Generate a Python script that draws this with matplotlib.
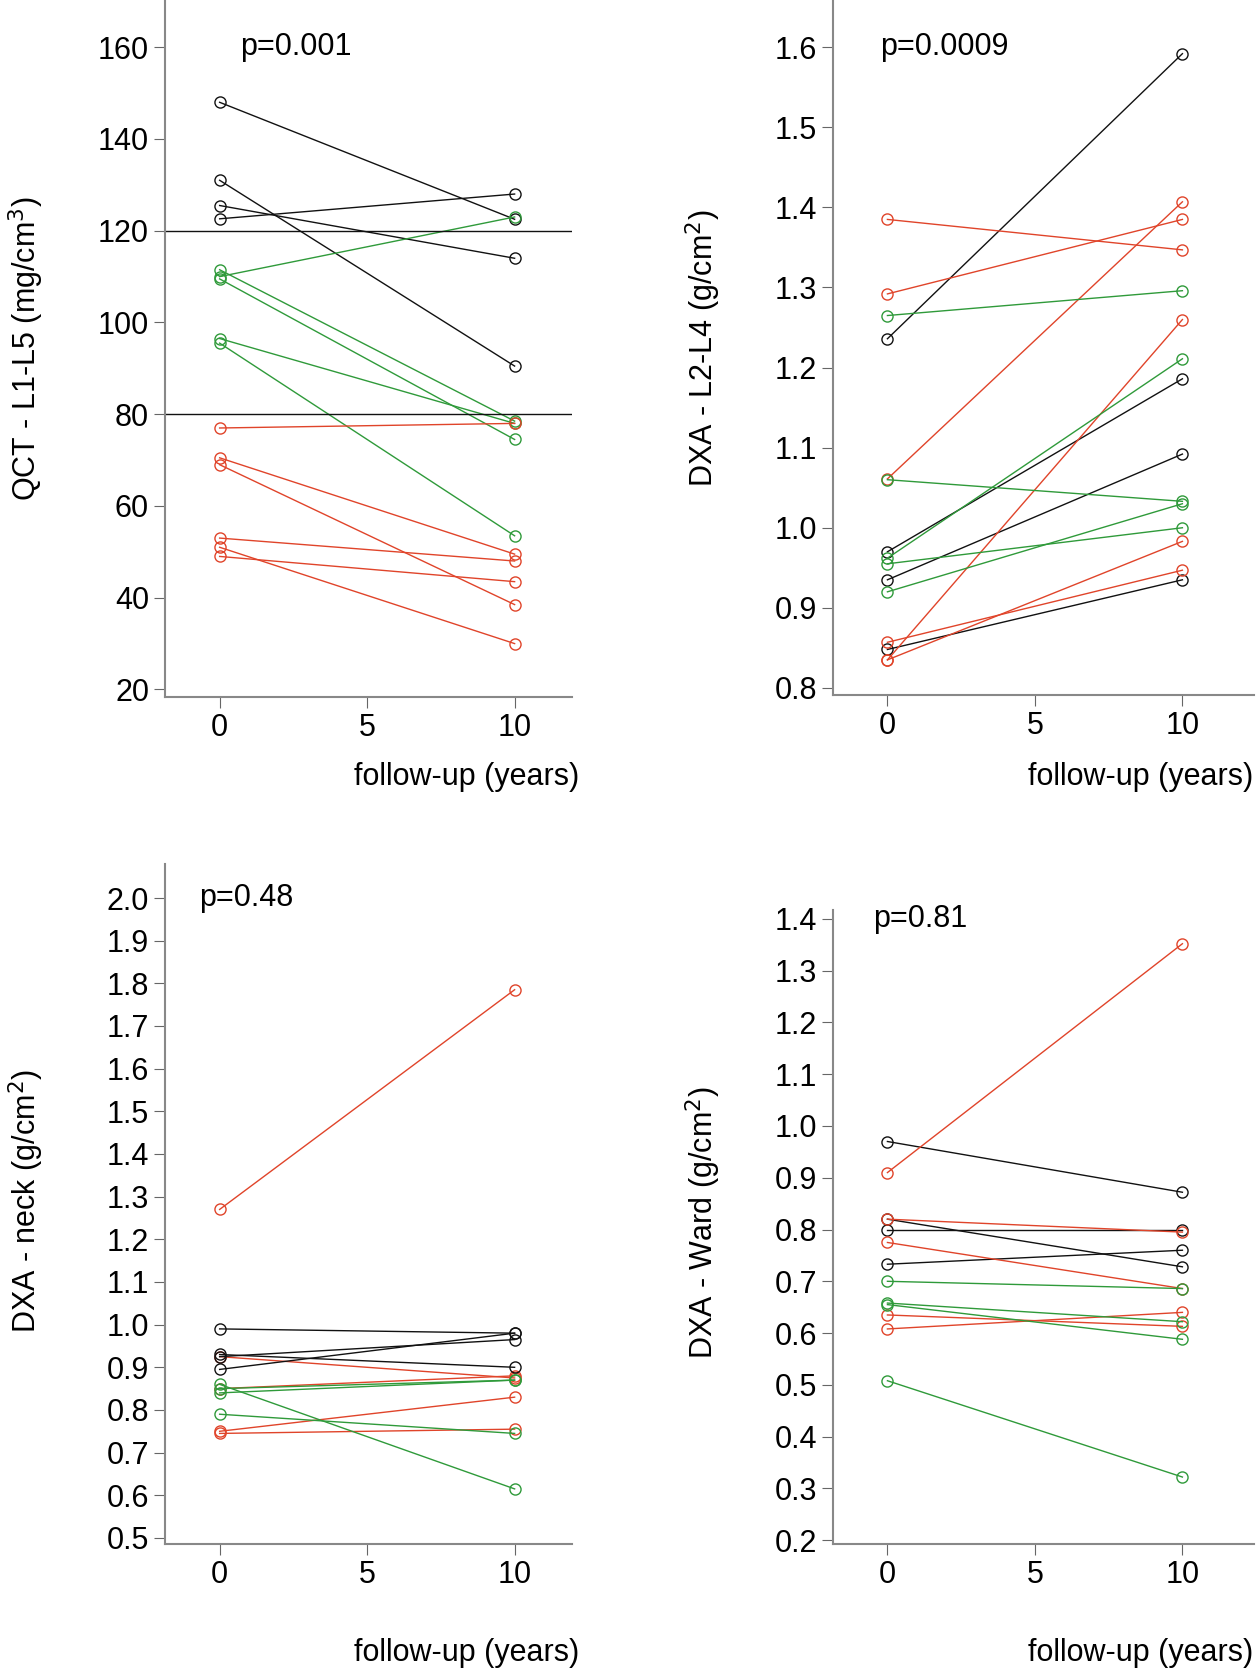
import matplotlib
matplotlib.use("Agg")
import matplotlib.pyplot as plt

RED = "#e0442a"
GREEN = "#2f9a3a"
BLACK = "#111111"

years = [0, 10]

# QCT L1-L5 (mg/cm3)
qct_start = [148, 131, 125.5, 122.6, 111.5, 110, 109.5, 96.5, 95.5, 77, 70.5, 69, 53, 51, 49]
qct_end = [122.5, 90.5, 114, 128, 78.5, 123, 74.5, 78, 53.5, 78, 49.5, 38.5, 48, 30, 43.5]
qct_col = ["k", "k", "k", "k", "g", "g", "g", "g", "g", "r", "r", "r", "r", "r", "r"]

# DXA L2-L4 (g/cm2)
l24_start = [1.236, 0.970, 0.935, 0.848, 1.385, 1.292, 1.061, 0.857, 0.835, 0.835,
             1.265, 1.060, 0.962, 0.955, 0.920]
l24_end = [1.592, 1.186, 1.092, 0.935, 1.347, 1.385, 1.407, 0.947, 1.260, 0.983,
           1.296, 1.033, 1.211, 1.000, 1.030]
l24_col = ["k", "k", "k", "k", "r", "r", "r", "r", "r", "r", "g", "g", "g", "g", "g"]

# DXA neck (g/cm2)
neck_start = [1.27, 0.925, 0.75, 0.745, 0.85, 0.99, 0.93, 0.895, 0.925, 0.86, 0.85, 0.84, 0.79]
neck_end = [1.785, 0.875, 0.83, 0.755, 0.88, 0.98, 0.90, 0.98, 0.965, 0.615, 0.87, 0.87, 0.745]
neck_col = ["r", "r", "r", "r", "r", "k", "k", "k", "k", "g", "g", "g", "g"]

# DXA Ward (g/cm2)
ward_start = [0.97, 0.80, 0.82, 0.733, 0.91, 0.82, 0.775, 0.635, 0.608, 0.70, 0.658, 0.655, 0.508]
ward_end = [0.872, 0.80, 0.728, 0.76, 1.352, 0.795, 0.686, 0.613, 0.64, 0.686, 0.622, 0.588, 0.322]
ward_col = ["k", "k", "k", "k", "r", "r", "r", "r", "r", "g", "g", "g", "g"]

cmap = {"k": BLACK, "r": RED, "g": GREEN}

fig = plt.figure(figsize=(12.6, 16.75), dpi=100)
plt.rcParams["font.family"] = ["Liberation Sans", "DejaVu Sans"]
FS = 22


def panel(rect, starts, ends, cols, ylim, yticks, yfmt, ylabel, ptext, px, ylab_pos):
    ax = fig.add_axes(rect)
    for s, e, c in zip(starts, ends, cols):
        ax.plot(years, [s, e], color=cmap[c], lw=1.0, marker="o", ms=8,
                mfc="none", mec=cmap[c], mew=1.0)
    ax.set_xlim(-1.85, rect[2] * 1196 / 28.0 - 1.85)
    ax.set_ylim(*ylim)
    ax.set_xticks([0, 5, 10])
    ax.set_yticks(yticks)
    ax.set_yticklabels([yfmt.format(v) for v in yticks])
    ax.tick_params(labelsize=FS, length=8, color="#666666")
    for side in ["top", "right"]:
        ax.spines[side].set_visible(False)
    for side in ["left", "bottom"]:
        ax.spines[side].set_color("#888888")
        ax.spines[side].set_linewidth(1.5)
    ax.text(px, yticks[-1], ptext, fontsize=FS, va="center")
    fig.text(ylab_pos[0], ylab_pos[1], ylabel, rotation=90, fontsize=FS,
             ha="center", va="center")
    return ax


ax1 = panel([0.131, 0.584, 0.323, 0.416], qct_start, qct_end, qct_col,
            (18.4, 170.3), list(range(20, 161, 20)), "{:d}",
            "QCT - L1-L5 (mg/cm$^3$)", "p=0.001", 0.7, (0.021, 0.792))
ax1.axhline(120, color=BLACK, lw=1.0)
ax1.axhline(80, color=BLACK, lw=1.0)

panel([0.661, 0.585, 0.334, 0.415], l24_start, l24_end, l24_col,
      (0.791, 1.659), [0.8 + 0.1 * i for i in range(9)], "{:.1f}",
      "DXA - L2-L4 (g/cm$^2$)", "p=0.0009", -0.25, (0.558, 0.792))

panel([0.131, 0.078, 0.323, 0.406], neck_start, neck_end, neck_col,
      (0.485, 2.079), [0.5 + 0.1 * i for i in range(16)], "{:.1f}",
      "DXA - neck (g/cm$^2$)", "p=0.48", -0.7, (0.021, 0.283))

panel([0.661, 0.078, 0.334, 0.379], ward_start, ward_end, ward_col,
      (0.192, 1.418), [0.2 + 0.1 * i for i in range(13)], "{:.1f}",
      "DXA - Ward (g/cm$^2$)", "p=0.81", -0.5, (0.558, 0.27))

for x, y in [(0.46, 0.527), (0.995, 0.527), (0.46, 0.004), (0.995, 0.004)]:
    fig.text(x, y, "follow-up (years)", fontsize=FS, ha="right", va="bottom")

fig.savefig("out.png", dpi=100)
